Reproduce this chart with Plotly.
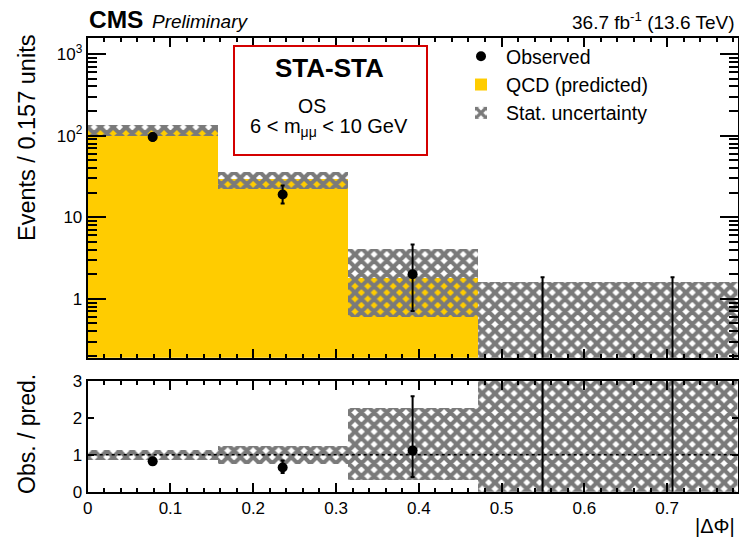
import numpy as np
import plotly.graph_objects as go

# ---------------- data ----------------
bin_width = 0.157
bin_centers = [0.0785, 0.2355, 0.3925, 0.5495, 0.7065]
pred = [117, 29, 1.8, 0, 0]
pred_err_up = [17, 7, 2.3, 1.63, 1.63]
pred_err_dn = [17, 7, 1.2, 0, 0]
obs = [96, 19, 2, 0, 0]
obs_err_up = [10.3, 5.4, 2.64, 1.84, 1.84]
obs_err_dn = [9.8, 4.3, 1.29, 0, 0]

ytick_vals = [1, 10, 100, 1000]
ytick_text = ["1", "10", "10<sup>2</sup>", "10<sup>3</sup>"]
ytick_minor = [m * 10 ** k for k in range(-1, 4) for m in range(2, 10)]
rtick_vals = [0, 1, 2, 3]
xtick_vals = [0, 0.1, 0.2, 0.3, 0.4, 0.5, 0.6, 0.7]
xtick_text = ["0", "0.1", "0.2", "0.3", "0.4", "0.5", "0.6", "0.7"]

FONT = "Liberation Sans, Arial, Helvetica, sans-serif"
YELLOW = "#FFCC00"
HATCH = "#7a7a7a"
W, H = 739, 537

pred_a = np.array(pred, float)
obs_a = np.array(obs, float)
floor = 1e-3
hatch_lo = np.maximum(pred_a - np.array(pred_err_dn), floor)
hatch_hi = pred_a + np.array(pred_err_up)

# ratio quantities
valid = pred_a > 0
safe_pred = np.where(valid, pred_a, 1)
ratio = np.where(valid, obs_a / safe_pred, np.nan)
ratio_up = np.where(valid, np.array(obs_err_up) / safe_pred, np.nan)
ratio_dn = np.where(valid, np.array(obs_err_dn) / safe_pred, np.nan)
rband_lo = np.where(valid, 1 - np.array(pred_err_dn) / safe_pred, 0)
rband_hi = np.where(valid, 1 + np.array(pred_err_up) / safe_pred, 10)

fig = go.Figure()

pattern = dict(shape="x", fgcolor=HATCH, bgcolor="rgba(0,0,0,0)", size=9, solidity=0.7)

# upper panel
fig.add_trace(go.Bar(
    x=bin_centers, y=[p if p > 0 else None for p in pred], width=bin_width,
    marker=dict(color=YELLOW, line=dict(width=0)),
    name="QCD (predicted)", legendrank=2, xaxis="x", yaxis="y"))
fig.add_trace(go.Bar(
    x=bin_centers, y=hatch_hi - hatch_lo, base=hatch_lo, width=bin_width,
    marker=dict(color="rgba(0,0,0,0)", line=dict(width=0), pattern=pattern),
    name="Stat. uncertainty", legendrank=3, xaxis="x", yaxis="y"))
obs_plot = np.where(obs_a > 0, obs_a, floor)
fig.add_trace(go.Scatter(
    x=bin_centers, y=obs_plot, mode="markers",
    marker=dict(color="black", size=10),
    error_y=dict(type="data", array=np.array(obs_err_up) - (obs_a <= 0) * floor,
                 arrayminus=obs_err_dn, color="black", thickness=2, width=2),
    name="Observed", legendrank=1, xaxis="x", yaxis="y", cliponaxis=True))

# ratio panel
fig.add_trace(go.Bar(
    x=bin_centers, y=rband_hi - rband_lo, base=rband_lo, width=bin_width,
    marker=dict(color="rgba(0,0,0,0)", line=dict(width=0), pattern=pattern),
    showlegend=False, xaxis="x2", yaxis="y2"))
fig.add_trace(go.Scatter(
    x=bin_centers, y=ratio, mode="markers",
    marker=dict(color="black", size=10),
    error_y=dict(type="data", array=ratio_up, arrayminus=ratio_dn, color="black", thickness=2, width=2),
    showlegend=False, xaxis="x2", yaxis="y2"))
# undefined ratio bins: full-height error line
undef_x = [c for c, v in zip(bin_centers, valid) if not v]
fig.add_trace(go.Scatter(
    x=undef_x, y=[1.5] * len(undef_x), mode="markers",
    marker=dict(color="black", size=0.1, opacity=0),
    error_y=dict(type="constant", value=10, color="black", thickness=2, width=0),
    showlegend=False, xaxis="x2", yaxis="y2"))

x0p, x1p = 87.7 / W, 737.5 / W
up_dom = [1 - 357.7 / H, 1 - 38 / H]
lo_dom = [1 - 491.7 / H, 1 - 380.7 / H]

common_x = dict(range=[0, 0.785], showgrid=False, zeroline=False, showline=True,
                linecolor="black", linewidth=2, mirror="ticks", ticks="inside",
                tickcolor="black", tickwidth=1.5, tickvals=xtick_vals, automargin=False,
                domain=[x0p, x1p],
                minor=dict(ticks="inside", dtick=0.02, tick0=0, ticklen=4, tickcolor="black", tickwidth=1.5))

fig.update_layout(
    template="none",
    width=W, height=H, margin=dict(l=0, r=0, t=0, b=0, autoexpand=False),
    paper_bgcolor="white", plot_bgcolor="white",
    font=dict(family=FONT, size=17, color="black"),
    barmode="overlay", bargap=0,
    xaxis=dict(common_x, anchor="y", showticklabels=False, ticklen=9),
    yaxis=dict(type="log", range=[np.log10(0.19), np.log10(1570)], domain=up_dom,
               anchor="x", showgrid=False, zeroline=False, showline=True, automargin=False,
               linecolor="black", linewidth=2, mirror="ticks", ticks="inside",
               ticklen=18, tickwidth=1.5, tickcolor="black",
               tickvals=ytick_vals, ticktext=ytick_text, tickfont=dict(size=17),
               minor=dict(ticks="inside", ticklen=9, tickcolor="black", tickwidth=1.5,
                          tickvals=ytick_minor, showgrid=False)),
    xaxis2=dict(common_x, anchor="y2", ticklen=9, ticktext=xtick_text, tickfont=dict(size=17)),
    yaxis2=dict(range=[0, 3], domain=lo_dom, anchor="x2", showgrid=False, zeroline=False,
                showline=True, linecolor="black", linewidth=2, mirror="ticks", automargin=False,
                ticks="inside", ticklen=6, tickwidth=1.5, tickcolor="black",
                tickvals=rtick_vals, tickfont=dict(size=17)),
    legend=dict(x=456 / W, y=1 - 37 / H, xanchor="left", yanchor="top",
                bgcolor="rgba(0,0,0,0)", font=dict(size=19.5), itemwidth=40,
                tracegroupgap=0),
    showlegend=True,
)

fig.add_shape(type="line", xref="x2 domain", yref="y2", x0=0, x1=1, y0=1, y1=1,
              line=dict(color="black", width=1.5, dash="dot"))
fig.add_shape(type="rect", xref="paper", yref="paper",
              x0=234 / W, x1=427 / W, y0=1 - 155 / H, y1=1 - 46 / H,
              line=dict(color="#d40000", width=2), fillcolor="white", layer="above")

ann = [
    dict(text="<b>CMS</b>", x=87 / W, y=1 - 19.5 / H, xanchor="left", size=24.5),
    dict(text="<i>Preliminary</i>", x=150 / W, y=1 - 21 / H, xanchor="left", size=19),
    dict(text="36.7 fb<sup>-1</sup> (13.6 TeV)", x=737 / W, y=1 - 21.5 / H, xanchor="right", size=19),
    dict(text="<b>STA-STA</b>", x=329 / W, y=1 - 68 / H, xanchor="center", size=26),
    dict(text="OS", x=311.5 / W, y=1 - 106 / H, xanchor="center", size=19.5),
    dict(text="6 &lt; m<sub>μμ</sub> &lt; 10 GeV", x=328.5 / W, y=1 - 127 / H, xanchor="center", size=20),
    dict(text="|ΔΦ|", x=737 / W, y=1 - 526 / H, xanchor="right", size=20),
]
for a in ann:
    fig.add_annotation(text=a["text"], x=a["x"], y=a["y"], xref="paper", yref="paper",
                       xanchor=a["xanchor"], yanchor="middle", showarrow=False,
                       font=dict(family=FONT, size=a["size"], color="black"))

fig.add_annotation(text="Events / 0.157 units", x=27 / W, y=1 - 138 / H, xref="paper", yref="paper",
                   textangle=-90, showarrow=False, xanchor="center", yanchor="middle",
                   font=dict(family=FONT, size=23.5, color="black"))
fig.add_annotation(text="Obs. / pred.", x=27 / W, y=1 - 434 / H, xref="paper", yref="paper",
                   textangle=-90, showarrow=False, xanchor="center", yanchor="middle",
                   font=dict(family=FONT, size=23, color="black"))

fig.write_html("out.html")
